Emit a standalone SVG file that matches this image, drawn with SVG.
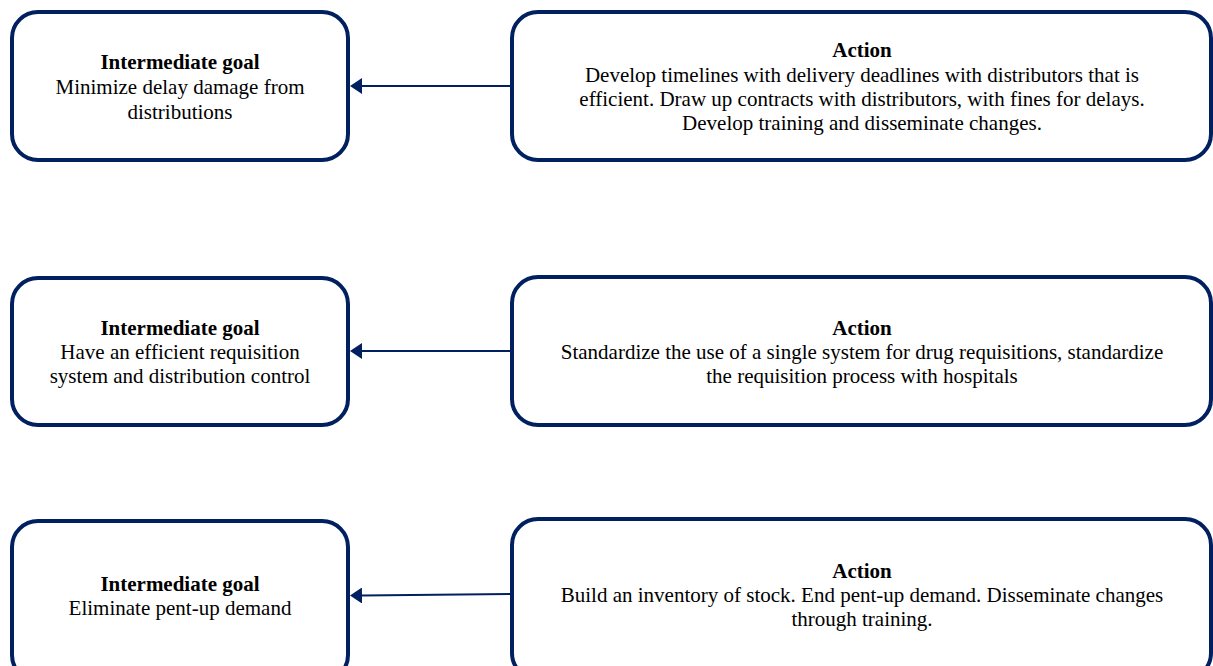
<svg xmlns="http://www.w3.org/2000/svg" width="1213" height="666" viewBox="0 0 1213 666">
<style>
.box{fill:#fff;stroke:#002060;stroke-width:4}
.t{font-family:"Liberation Serif","Times New Roman",serif;font-size:21px;fill:#000;text-anchor:middle}
.b{font-weight:bold}
.c{stroke:#002060;stroke-width:2;fill:none}
</style>
<defs>
<marker id="ah" viewBox="0 0 12 16" refX="0" refY="8" markerWidth="12" markerHeight="16" markerUnits="userSpaceOnUse" orient="auto">
<path d="M0,0 L12,8 L0,16 Z" fill="#002060"/>
</marker>
</defs>
<rect width="1213" height="666" fill="#fff"/>
<g id="connectors">
<line class="c" x1="512" y1="86" x2="362" y2="86" marker-end="url(#ah)"/>
<line class="c" x1="512" y1="351" x2="362" y2="351" marker-end="url(#ah)"/>
<line class="c" x1="512" y1="594" x2="362" y2="595.5" marker-end="url(#ah)"/>
</g>
<g id="goal1">
<rect class="box" x="12" y="12" width="336" height="148" rx="26"/>
<text class="t b" x="180" y="69">Intermediate goal</text>
<text class="t" x="180" y="94">Minimize delay damage from</text>
<text class="t" x="180" y="119">distributions</text>
</g>
<g id="action1">
<rect class="box" x="512" y="12" width="699" height="148" rx="26"/>
<text class="t b" x="862" y="57">Action</text>
<text class="t" x="862" y="82">Develop timelines with delivery deadlines with distributors that is</text>
<text class="t" x="862" y="106">efficient. Draw up contracts with distributors, with fines for delays.</text>
<text class="t" x="862" y="130">Develop training and disseminate changes.</text>
</g>
<g id="goal2">
<rect class="box" x="12" y="278" width="336" height="147" rx="26"/>
<text class="t b" x="180" y="335">Intermediate goal</text>
<text class="t" x="180" y="359">Have an efficient requisition</text>
<text class="t" x="180" y="383">system and distribution control</text>
</g>
<g id="action2">
<rect class="box" x="512" y="277" width="699" height="148" rx="26"/>
<text class="t b" x="862" y="335">Action</text>
<text class="t" x="862" y="359">Standardize the use of a single system for drug requisitions, standardize</text>
<text class="t" x="862" y="383">the requisition process with hospitals</text>
</g>
<g id="goal3">
<rect class="box" x="12" y="521" width="336" height="160" rx="26"/>
<text class="t b" x="180" y="591">Intermediate goal</text>
<text class="t" x="180" y="615">Eliminate pent-up demand</text>
</g>
<g id="action3">
<rect class="box" x="512" y="519" width="699" height="160" rx="26"/>
<text class="t b" x="862" y="578">Action</text>
<text class="t" x="862" y="602">Build an inventory of stock. End pent-up demand. Disseminate changes</text>
<text class="t" x="862" y="626">through training.</text>
</g>
</svg>
